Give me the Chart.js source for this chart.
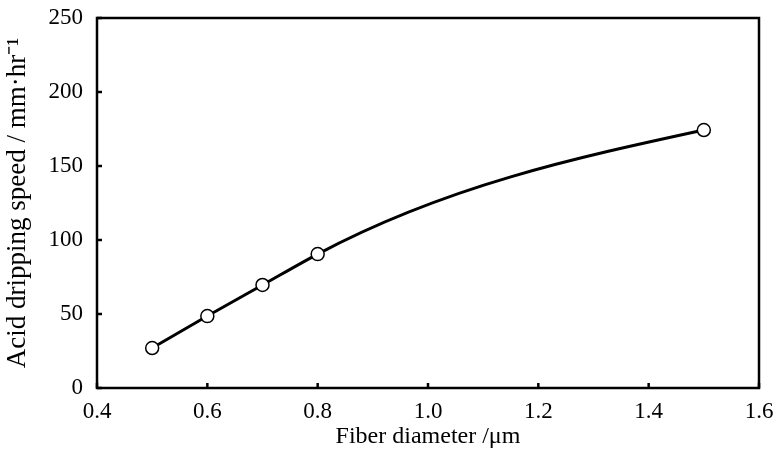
<!DOCTYPE html>
<html><head><meta charset="utf-8">
<script src="https://cdn.jsdelivr.net/npm/chart.js@4/dist/chart.umd.min.js"></script>
<style>html,body{margin:0;padding:0;background:#fff}#w{width:777px;height:459px}</style>
</head><body><div id="w"><canvas id="c" width="777" height="459"></canvas></div>
<script>
const fiberDiameter = [0.5, 0.6, 0.7, 0.8, 1.5];
const dripSpeed = [27, 48.6, 69.6, 90.5, 174.3];
const xTicks = [0.4, 0.6, 0.8, 1.0, 1.2, 1.4, 1.6];
const yTicks = [0, 50, 100, 150, 200, 250];
const xTitle = 'Fiber diameter /\u03bcm';
const yTitle = 'Acid dripping speed / mm\u00b7hr\u207b\u00b9';

const FONT = '"Liberation Serif", "Times New Roman", serif';

// Smooth curve: Hermite tangents (Bessel three-point rule), applied to the library's bezier control points
const smoothCurve = {
  id: 'smoothCurve',
  beforeDatasetDraw(chart, args) {
    const meta = args.meta;
    const line = meta.dataset;
    line.updateControlPoints(chart.chartArea, meta.iAxis);
    const p = meta.data;
    const n = p.length;
    if (n < 3) return;
    const h = [], d = [];
    for (let i = 0; i < n - 1; i++) {
      h.push(p[i + 1].x - p[i].x);
      d.push((p[i + 1].y - p[i].y) / h[i]);
    }
    const m = new Array(n);
    for (let i = 1; i < n - 1; i++) {
      m[i] = (h[i] * d[i - 1] + h[i - 1] * d[i]) / (h[i - 1] + h[i]);
    }
    m[0] = (3 * d[0] - m[1]) / 2;
    m[n - 1] = (3 * d[n - 2] - m[n - 2]) / 2;
    for (let i = 0; i < n; i++) {
      const hl = i > 0 ? h[i - 1] / 3 : 0;
      const hr = i < n - 1 ? h[i] / 3 : 0;
      p[i].cp1x = p[i].x - hl; p[i].cp1y = p[i].y - m[i] * hl;
      p[i].cp2x = p[i].x + hr; p[i].cp2y = p[i].y + m[i] * hr;
    }
    line._path = undefined;
  }
};

const frame = {
  id: 'frame',
  afterDatasetsDraw(chart) {
    const {ctx, chartArea: a, scales: {x, y}} = chart;
    ctx.save();
    ctx.strokeStyle = '#000';
    ctx.lineWidth = 2.5;
    ctx.strokeRect(a.left, a.top, a.right - a.left, a.bottom - a.top);
    ctx.beginPath();
    xTicks.forEach(v => { const px = x.getPixelForValue(v); ctx.moveTo(px, a.bottom); ctx.lineTo(px, a.bottom - 5); });
    yTicks.forEach(v => { const py = y.getPixelForValue(v); ctx.moveTo(a.left, py); ctx.lineTo(a.left + 5, py); });
    ctx.stroke();
    ctx.restore();
  }
};
new Chart(document.getElementById('c'), {
  type: 'line',
  data: { datasets: [{
    data: fiberDiameter.map((v, i) => ({x: v, y: dripSpeed[i]})),
    borderColor: '#000', borderWidth: 3,
    tension: 0.4,
    pointRadius: 6.5, pointBorderWidth: 1.5,
    pointBackgroundColor: '#fff', pointBorderColor: '#000'
  }]},
  options: {
    responsive: false, animation: false, devicePixelRatio: 1,
    layout: { padding: { left: 0, right: 18, top: 18, bottom: 0 } },
    plugins: { legend: { display: false }, tooltip: { enabled: false } },
    scales: {
      x: {
        type: 'linear', min: 0.4, max: 1.6,
        afterBuildTicks: s => { s.ticks = xTicks.map(v => ({value: v})); },
        afterFit: s => { s.height = 459 - 388; s.paddingLeft = 0; s.paddingRight = 0; },
        ticks: { color: '#000', font: { family: FONT, size: 23 }, padding: 10,
          callback: v => Number(v).toFixed(1) },
        grid: { display: false, drawTicks: false },
        border: { display: false },
        title: { display: true, text: xTitle, color: '#000', font: { family: FONT, size: 24 }, padding: { top: 0, bottom: 8 } }
      },
      y: {
        type: 'linear', min: 0, max: 250,
        afterBuildTicks: s => { s.ticks = yTicks.map(v => ({value: v})); },
        afterFit: s => { s.width = 97; s.paddingTop = 0; s.paddingBottom = 0; },
        ticks: { color: '#000', font: { family: FONT, size: 23 }, padding: 14 },
        grid: { display: false, drawTicks: false },
        border: { display: false },
        title: { display: true, text: yTitle, color: '#000', font: { family: FONT, size: 27 }, padding: { top: 2, bottom: 0 } }
      }
    }
  },
  plugins: [smoothCurve, frame]
});
</script></body></html>
